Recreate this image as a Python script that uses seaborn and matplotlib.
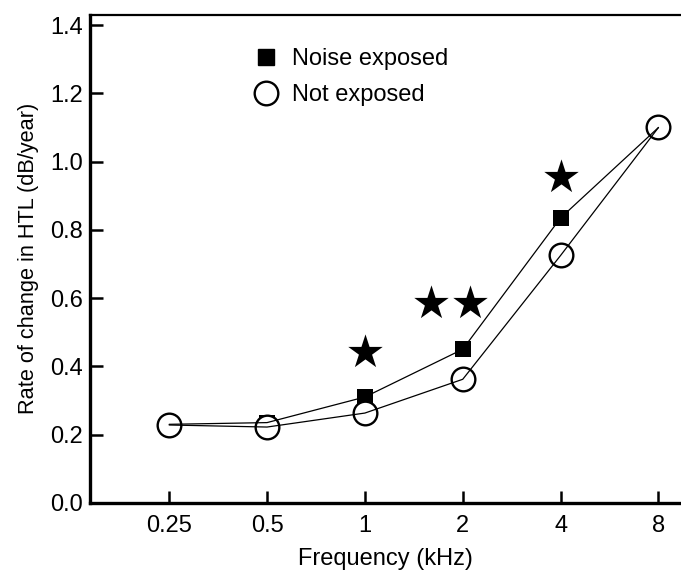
import numpy as np
import pandas as pd
import matplotlib
matplotlib.use("Agg")
import matplotlib.pyplot as plt
import seaborn as sns
from matplotlib.lines import Line2D

# =============================
# DATA
# =============================
freqs = [0.25, 0.5, 1, 2, 4, 8]
freq_labels = ["0.25", "0.5", "1", "2", "4", "8"]
noise_exposed = [0.23, 0.235, 0.31, 0.45, 0.835, 1.10]
not_exposed = [0.228, 0.222, 0.263, 0.362, 0.725, 1.10]

star_x = [1.0, 1.6, 2.11, 4.0]
star_y = [0.443, 0.585, 0.585, 0.955]

df = pd.DataFrame({
    "freq": freqs * 2,
    "rate": noise_exposed + not_exposed,
    "group": ["Noise exposed"] * len(freqs) + ["Not exposed"] * len(freqs),
})

# =============================
# STYLE
# =============================
sns.set_style("ticks", {"xtick.direction": "in", "ytick.direction": "in"})
plt.rcParams["font.family"] = ["Liberation Sans", "DejaVu Sans"]
plt.rcParams["text.color"] = "black"
plt.rcParams["axes.labelcolor"] = "black"

fig = plt.figure(figsize=(6.81, 5.72), dpi=100)
ax = fig.add_axes([0.132, 0.121, 0.868, 0.853])

# markers first, thin connecting lines on top
sns.scatterplot(x=freqs, y=noise_exposed, marker="s", s=135, color="black",
                edgecolor="black", linewidth=0, ax=ax, zorder=2)
sns.scatterplot(x=freqs, y=not_exposed, marker="o", s=290, color="white",
                edgecolor="black", linewidth=1.7, ax=ax, zorder=3)
sns.lineplot(data=df, x="freq", y="rate", units="group", estimator=None,
             color="black", linewidth=0.9, ax=ax, zorder=4, legend=False)

# significance stars
sns.scatterplot(x=star_x, y=star_y, marker="*", s=680, color="black",
                edgecolor="black", linewidth=0, ax=ax, zorder=5)

ax.set_xscale("log", base=2)
ax.set_xlim(0.25 * 2 ** -0.81, 0.25 * 2 ** 5.23)
ax.set_ylim(0, 1.43)
ax.set_xticks(freqs)
ax.set_xticklabels(freq_labels)
ax.minorticks_off()
ax.set_yticks(np.arange(0, 1.41, 0.2))
ax.set_yticklabels([f"{v:.1f}" for v in np.arange(0, 1.41, 0.2)])

ax.tick_params(axis="both", which="major", direction="in", length=9, width=1.8,
               bottom=True, left=True)
ax.tick_params(axis="both", labelsize=17, labelcolor="black", color="black")
ax.tick_params(axis="x", pad=9)
ax.tick_params(axis="y", pad=5)

ax.set_xlabel("Frequency (kHz)", fontsize=17, labelpad=8)
ax.set_ylabel("Rate of change in HTL (dB/year)", fontsize=15.7, labelpad=8)

for side in ["left", "bottom"]:
    ax.spines[side].set_linewidth(2.4)
    ax.spines[side].set_color("black")
ax.spines["top"].set_visible(True)
ax.spines["top"].set_linewidth(1.6)
ax.spines["top"].set_color("black")
ax.spines["right"].set_visible(False)

# =============================
# LEGEND
# =============================
handles = [
    Line2D([], [], marker="s", linestyle="none", markersize=11,
           markerfacecolor="black", markeredgecolor="black"),
    Line2D([], [], marker="o", linestyle="none", markersize=17,
           markerfacecolor="white", markeredgecolor="black", markeredgewidth=1.7),
]
ax.legend(handles, ["Noise exposed", "Not exposed"], frameon=False,
          loc="upper left", bbox_to_anchor=(0.232, 0.975), fontsize=17,
          handletextpad=0.35, labelspacing=0.6, handlelength=1.5)

fig.savefig("out.png", dpi=100)
